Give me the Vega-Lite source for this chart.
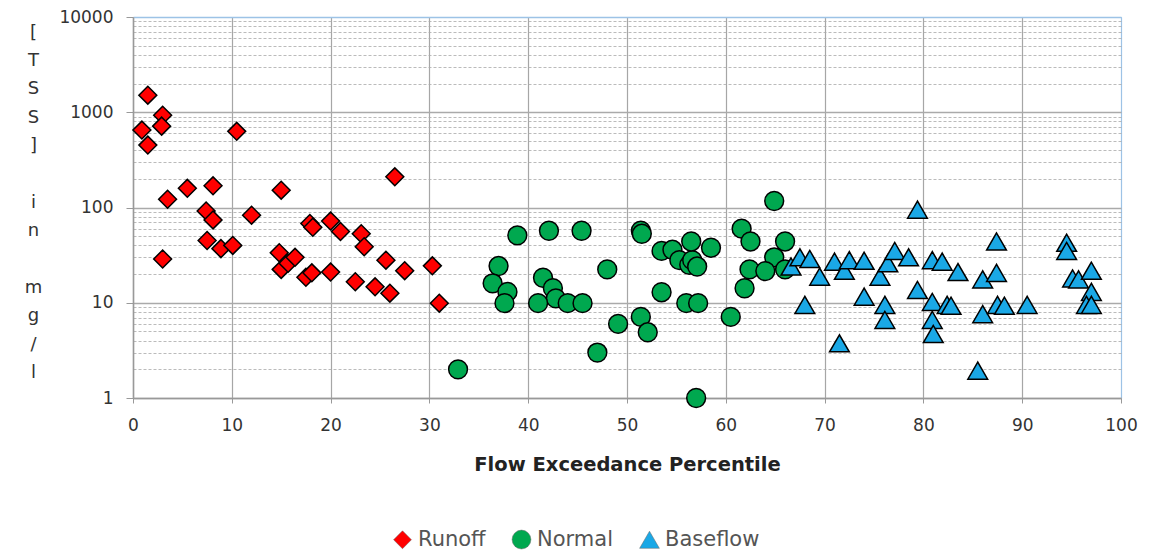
{
  "$schema": "https://vega.github.io/schema/vega-lite/v6.json",
  "width": 988,
  "height": 381,
  "autosize": {"type": "none"},
  "padding": {"left": 133, "top": 17, "right": 32, "bottom": 157},
  "background": "white",
  "config": {
    "font": "DejaVu Sans",
    "view": {"stroke": "#9DC3E6", "strokeWidth": 1}
  },
  "data": {
    "values": [
      {"pct": 1.5, "tss": 1510, "type": "Runoff"},
      {"pct": 0.9, "tss": 650, "type": "Runoff"},
      {"pct": 1.5, "tss": 452, "type": "Runoff"},
      {"pct": 3.0, "tss": 930, "type": "Runoff"},
      {"pct": 2.9, "tss": 715, "type": "Runoff"},
      {"pct": 10.5, "tss": 630, "type": "Runoff"},
      {"pct": 3.5, "tss": 122, "type": "Runoff"},
      {"pct": 5.5, "tss": 159, "type": "Runoff"},
      {"pct": 8.1, "tss": 169, "type": "Runoff"},
      {"pct": 7.4, "tss": 92, "type": "Runoff"},
      {"pct": 8.1, "tss": 74, "type": "Runoff"},
      {"pct": 7.5, "tss": 45, "type": "Runoff"},
      {"pct": 8.9, "tss": 37, "type": "Runoff"},
      {"pct": 10.1, "tss": 40, "type": "Runoff"},
      {"pct": 3.0, "tss": 28.8, "type": "Runoff"},
      {"pct": 12.0, "tss": 83, "type": "Runoff"},
      {"pct": 15.0, "tss": 152, "type": "Runoff"},
      {"pct": 14.8, "tss": 33.5, "type": "Runoff"},
      {"pct": 15.0, "tss": 22.4, "type": "Runoff"},
      {"pct": 15.7, "tss": 26, "type": "Runoff"},
      {"pct": 16.4, "tss": 30, "type": "Runoff"},
      {"pct": 17.9, "tss": 68, "type": "Runoff"},
      {"pct": 18.2, "tss": 62, "type": "Runoff"},
      {"pct": 17.5, "tss": 18.5, "type": "Runoff"},
      {"pct": 18.1, "tss": 20.6, "type": "Runoff"},
      {"pct": 20.0, "tss": 72, "type": "Runoff"},
      {"pct": 21.0, "tss": 56, "type": "Runoff"},
      {"pct": 20.0, "tss": 21, "type": "Runoff"},
      {"pct": 22.5, "tss": 16.6, "type": "Runoff"},
      {"pct": 23.1, "tss": 53, "type": "Runoff"},
      {"pct": 23.4, "tss": 38.7, "type": "Runoff"},
      {"pct": 24.5, "tss": 14.7, "type": "Runoff"},
      {"pct": 25.6, "tss": 28, "type": "Runoff"},
      {"pct": 26.0, "tss": 12.6, "type": "Runoff"},
      {"pct": 26.5, "tss": 210, "type": "Runoff"},
      {"pct": 27.5, "tss": 21.7, "type": "Runoff"},
      {"pct": 30.3, "tss": 24.4, "type": "Runoff"},
      {"pct": 31.0, "tss": 9.9, "type": "Runoff"},
      {"pct": 32.9, "tss": 2.0, "type": "Normal"},
      {"pct": 37.0, "tss": 24.3, "type": "Normal"},
      {"pct": 36.4, "tss": 16, "type": "Normal"},
      {"pct": 37.9, "tss": 13, "type": "Normal"},
      {"pct": 37.6, "tss": 9.9, "type": "Normal"},
      {"pct": 38.9, "tss": 51, "type": "Normal"},
      {"pct": 42.1, "tss": 57, "type": "Normal"},
      {"pct": 45.4, "tss": 57, "type": "Normal"},
      {"pct": 41.5, "tss": 18.3, "type": "Normal"},
      {"pct": 42.5, "tss": 14.2, "type": "Normal"},
      {"pct": 42.8, "tss": 11.1, "type": "Normal"},
      {"pct": 41.0, "tss": 9.9, "type": "Normal"},
      {"pct": 44.0, "tss": 9.9, "type": "Normal"},
      {"pct": 45.5, "tss": 9.9, "type": "Normal"},
      {"pct": 48.0, "tss": 22.4, "type": "Normal"},
      {"pct": 49.1, "tss": 6.0, "type": "Normal"},
      {"pct": 47.0, "tss": 3.0, "type": "Normal"},
      {"pct": 51.4, "tss": 57, "type": "Normal"},
      {"pct": 51.5, "tss": 53, "type": "Normal"},
      {"pct": 51.4, "tss": 7.1, "type": "Normal"},
      {"pct": 52.1, "tss": 4.9, "type": "Normal"},
      {"pct": 53.5, "tss": 12.9, "type": "Normal"},
      {"pct": 53.5, "tss": 35, "type": "Normal"},
      {"pct": 54.6, "tss": 36, "type": "Normal"},
      {"pct": 55.3, "tss": 28, "type": "Normal"},
      {"pct": 56.3, "tss": 25, "type": "Normal"},
      {"pct": 56.6, "tss": 28, "type": "Normal"},
      {"pct": 56.5, "tss": 44, "type": "Normal"},
      {"pct": 58.5, "tss": 37.8, "type": "Normal"},
      {"pct": 57.1, "tss": 24, "type": "Normal"},
      {"pct": 56.0, "tss": 9.9, "type": "Normal"},
      {"pct": 57.2, "tss": 9.9, "type": "Normal"},
      {"pct": 57.0, "tss": 1.0, "type": "Normal"},
      {"pct": 60.5, "tss": 7.1, "type": "Normal"},
      {"pct": 61.6, "tss": 60, "type": "Normal"},
      {"pct": 62.5, "tss": 44, "type": "Normal"},
      {"pct": 64.9, "tss": 117, "type": "Normal"},
      {"pct": 66.0, "tss": 44, "type": "Normal"},
      {"pct": 64.9, "tss": 30, "type": "Normal"},
      {"pct": 62.4, "tss": 22.4, "type": "Normal"},
      {"pct": 64.0, "tss": 21.5, "type": "Normal"},
      {"pct": 61.9, "tss": 14.2, "type": "Normal"},
      {"pct": 66.0, "tss": 22.4, "type": "Normal"},
      {"pct": 66.6, "tss": 24, "type": "Baseflow"},
      {"pct": 67.5, "tss": 30, "type": "Baseflow"},
      {"pct": 68.5, "tss": 28.8, "type": "Baseflow"},
      {"pct": 69.5, "tss": 18.8, "type": "Baseflow"},
      {"pct": 68.0, "tss": 9.5, "type": "Baseflow"},
      {"pct": 71.0, "tss": 27, "type": "Baseflow"},
      {"pct": 72.0, "tss": 21.7, "type": "Baseflow"},
      {"pct": 72.5, "tss": 28, "type": "Baseflow"},
      {"pct": 74.0, "tss": 27.6, "type": "Baseflow"},
      {"pct": 74.0, "tss": 11.6, "type": "Baseflow"},
      {"pct": 71.5, "tss": 3.75, "type": "Baseflow"},
      {"pct": 75.6, "tss": 18.8, "type": "Baseflow"},
      {"pct": 76.4, "tss": 26, "type": "Baseflow"},
      {"pct": 77.1, "tss": 35, "type": "Baseflow"},
      {"pct": 76.1, "tss": 9.5, "type": "Baseflow"},
      {"pct": 76.1, "tss": 6.6, "type": "Baseflow"},
      {"pct": 78.5, "tss": 30, "type": "Baseflow"},
      {"pct": 79.4, "tss": 95, "type": "Baseflow"},
      {"pct": 79.4, "tss": 13.6, "type": "Baseflow"},
      {"pct": 80.9, "tss": 28, "type": "Baseflow"},
      {"pct": 81.9, "tss": 27, "type": "Baseflow"},
      {"pct": 83.5, "tss": 21, "type": "Baseflow"},
      {"pct": 80.9, "tss": 10.2, "type": "Baseflow"},
      {"pct": 80.9, "tss": 6.6, "type": "Baseflow"},
      {"pct": 81.0, "tss": 4.7, "type": "Baseflow"},
      {"pct": 82.4, "tss": 9.5, "type": "Baseflow"},
      {"pct": 82.8, "tss": 9.3, "type": "Baseflow"},
      {"pct": 85.5, "tss": 1.94, "type": "Baseflow"},
      {"pct": 86.0, "tss": 17.6, "type": "Baseflow"},
      {"pct": 86.0, "tss": 7.6, "type": "Baseflow"},
      {"pct": 87.4, "tss": 44, "type": "Baseflow"},
      {"pct": 87.4, "tss": 20.6, "type": "Baseflow"},
      {"pct": 87.5, "tss": 9.5, "type": "Baseflow"},
      {"pct": 88.2, "tss": 9.3, "type": "Baseflow"},
      {"pct": 90.5, "tss": 9.5, "type": "Baseflow"},
      {"pct": 94.5, "tss": 42.6, "type": "Baseflow"},
      {"pct": 94.5, "tss": 35, "type": "Baseflow"},
      {"pct": 95.1, "tss": 18, "type": "Baseflow"},
      {"pct": 95.7, "tss": 17.6, "type": "Baseflow"},
      {"pct": 97.0, "tss": 21.7, "type": "Baseflow"},
      {"pct": 97.0, "tss": 13, "type": "Baseflow"},
      {"pct": 96.5, "tss": 9.5, "type": "Baseflow"},
      {"pct": 97.0, "tss": 9.5, "type": "Baseflow"}
    ]
  },
  "mark": {"type": "point", "filled": true, "stroke": "black", "strokeWidth": 1.5, "opacity": 1},
  "encoding": {
    "x": {
      "field": "pct", "type": "quantitative",
      "scale": {"domain": [0, 100], "nice": false},
      "axis": {
        "values": [0, 10, 20, 30, 40, 50, 60, 70, 80, 90, 100],
        "labelFlush": false,
        "title": "Flow Exceedance Percentile",
        "titleFontSize": 19.5, "titleFontWeight": "bold", "titleColor": "#222222",
        "titlePadding": 22,
        "labelFontSize": 17, "labelColor": "#333333", "labelPadding": 14,
        "tickSize": 5, "tickColor": "#999999",
        "domainColor": "#999999", "domainWidth": 1.5,
        "gridColor": {"condition": {"test": "datum.value == 100", "value": "#9DC3E6"}, "value": "#a6a6a6"},
        "gridWidth": 1.2
      }
    },
    "y": {
      "field": "tss", "type": "quantitative",
      "scale": {"type": "log", "domain": [1, 10000], "nice": false},
      "axis": {
        "values": [1,2,3,4,5,6,7,8,9,10,20,30,40,50,60,70,80,90,100,200,300,400,500,600,700,800,900,1000,2000,3000,4000,5000,6000,7000,8000,9000,10000],
        "labelFlush": false,
        "labelExpr": "indexof([1,10,100,1000,10000], datum.value) >= 0 ? format(datum.value, 'd') : ''",
        "labelFontSize": 17, "labelColor": "#333333", "labelPadding": 13,
        "tickSize": 7,
        "tickColor": "#999999",
        "tickOpacity": {"condition": {"test": "indexof([1,10,100,1000,10000], datum.value) >= 0", "value": 1}, "value": 0},
        "domainColor": "#999999", "domainWidth": 1.5,
        "gridColor": {"condition": {"test": "datum.value == 10000", "value": "#9DC3E6"}, "value": "#aaaaaa"},
        "gridDash": {"condition": {"test": "indexof([1,10,100,1000,10000], datum.value) >= 0", "value": []}, "value": [3, 2]},
        "gridWidth": {"condition": {"test": "indexof([1,10,100,1000,10000], datum.value) >= 0", "value": 1.5}, "value": 0.8},
        "title": ["[", "T", "S", "S", "]", "\u2800", "i", "n", "\u2800", "m", "g", "/", "l"],
        "titleAngle": 0,
        "titleAlign": "center",
        "titleBaseline": "middle",
        "titleX": -100,
        "titleY": 15,
        "titleLineHeight": 28.4,
        "titleFontSize": 18,
        "titleFontWeight": "normal",
        "titleColor": "#333333"
      }
    },
    "color": {
      "field": "type", "type": "nominal",
      "scale": {"domain": ["Runoff", "Normal", "Baseflow"], "range": ["#FF0000", "#00A84F", "#1AA8E6"]},
      "legend": {
        "title": null,
        "orient": "none",
        "direction": "horizontal",
        "legendX": 259,
        "legendY": 512,
        "labelFontSize": 21,
        "labelColor": "#555555",
        "symbolSize": 200,
        "symbolStrokeColor": "#666666",
        "symbolStrokeWidth": 0.5,
        "labelOffset": 5,
        "columnPadding": 25,
        "labelLimit": 300
      }
    },
    "shape": {
      "field": "type", "type": "nominal",
      "scale": {"domain": ["Runoff", "Normal", "Baseflow"], "range": ["diamond", "circle", "triangle-up"]},
      "legend": null
    },
    "size": {
      "field": "type", "type": "nominal",
      "scale": {"domain": ["Runoff", "Normal", "Baseflow"], "range": [320, 390, 390]},
      "legend": null
    }
  }
}
